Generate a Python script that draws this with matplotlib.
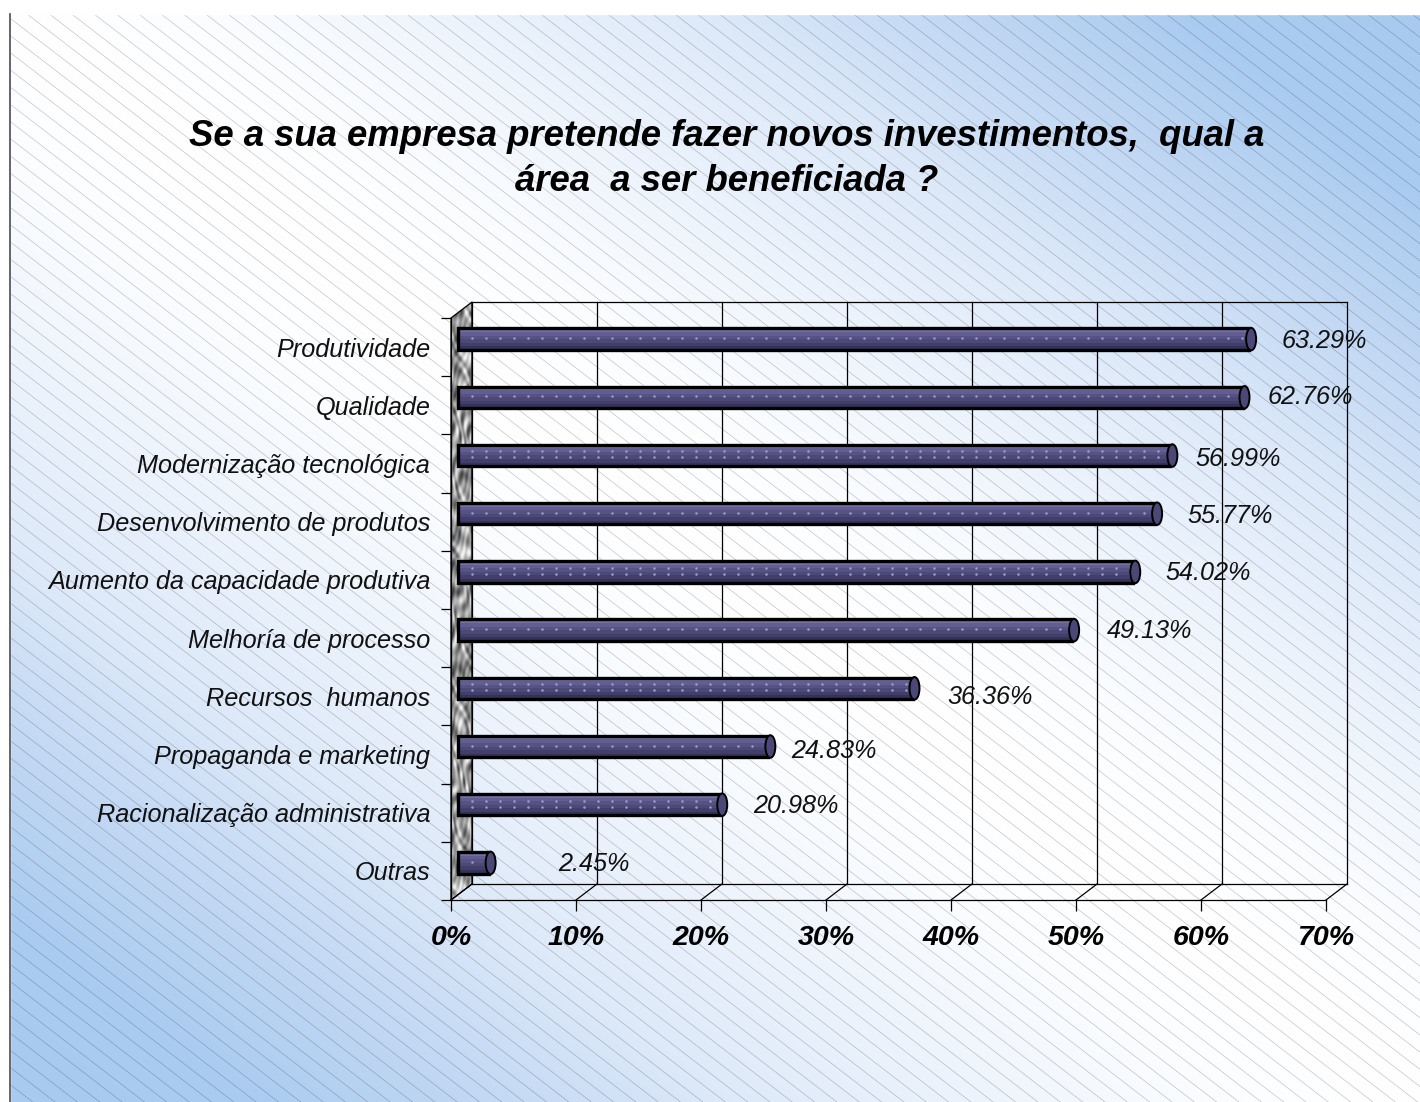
#!/usr/bin/env python

# Investment areas, 3D-looking horizontal bars

import matplotlib
matplotlib.use('Agg')
import matplotlib.pyplot as plt
from matplotlib.patches import Ellipse, Polygon
import numpy as np

plt.rcParams['font.family'] = ['Liberation Sans', 'DejaVu Sans']

title = 'Se a sua empresa pretende fazer novos investimentos,  qual a\nárea  a ser beneficiada ?'

categories = ['Produtividade', 'Qualidade', 'Modernização tecnológica',
              'Desenvolvimento de produtos', 'Aumento da capacidade produtiva',
              'Melhoría de processo', 'Recursos  humanos',
              'Propaganda e marketing', 'Racionalização administrativa', 'Outras']
values = [63.29, 62.76, 56.99, 55.77, 54.02, 49.13, 36.36, 24.83, 20.98, 2.45]
xticks = [0, 10, 20, 30, 40, 50, 60, 70]

# Layout, in pixels of the 1420x1102 picture

W, H = 1420, 1102
x0_px, x1_px = 451, 1326
y0_px, y1_px = 900, 318
depth_x_px, depth_y_px = 21, 16
label_gap_px = [24, 17, 17, 24, 24, 27, 27, 15, 25, 62]
label_shift_px = [2, 0, 3, 2, 1, 1, 9, 4, 1, 1]

fig = plt.figure(figsize=(W / 100, H / 100), dpi=100, facecolor='white')

# Background: gradient and thin diagonal lines

bg = fig.add_axes([0, 0, 1, 1], zorder=0)
bg.axis('off')

xx, yy = np.meshgrid(np.linspace(0, 1, 284), np.linspace(0, 1, 220))
u = np.abs(xx - yy)
stops = [0.0, 0.1, 0.2, 0.39, 0.5, 0.62, 0.69, 0.83, 1.0]
red = [255, 253, 247, 230, 221, 200, 191, 170, 168]
green = [255, 254, 250, 239, 233, 220, 214, 204, 202]
blue = [255, 255, 254, 251, 249, 245, 243, 240, 239]
grad = np.dstack([np.interp(u, stops, c) for c in (red, green, blue)]) / 255
bg.imshow(grad, extent=(10, W, H, 14), aspect='auto', interpolation='bilinear')
bg.set_xlim(0, W)
bg.set_ylim(H, 0)

for c in np.arange(-1400, 1110, 17.2):
    bg.plot([0, W], [c, c + 0.77 * W], color='#000000', alpha=0.25, lw=0.45)
bg.fill_between([0, 10], 0, H, color='white', zorder=3)
bg.fill_between([0, W], 0, 14, color='white', zorder=3)
bg.plot([10, 10], [14, H], color='#4a4a55', lw=1.2, zorder=4)

fig.text(727 / W, 1 - 159 / H, title, ha='center', va='center', fontsize=26.3,
         fontweight='bold', fontstyle='italic', linespacing=1.4)

# Chart axes: the front plane of the 3D box

ax = fig.add_axes([x0_px / W, 1 - y0_px / H, (x1_px - x0_px) / W, (y0_px - y1_px) / H],
                  zorder=1)
ax.patch.set_alpha(0)

px_x = 70 / (x1_px - x0_px)
px_y = len(categories) / (y0_px - y1_px)
dx = depth_x_px * px_x
dy = depth_y_px * px_y
ypos = np.arange(len(categories))[::-1] + 0.5

# Wall, floor and grid

wall = Polygon([(0, 0), (dx, dy), (dx, 10 + dy), (0, 10)], closed=True, fc='none',
               ec='black', lw=0.9, clip_on=False, zorder=2)
ax.add_patch(wall)
tx, ty = np.meshgrid(np.arange(21), np.arange(600))
warp = 2.5 * np.sin(ty * 0.037 + tx * 0.11) + 1.8 * np.sin(ty * 0.091 - tx * 0.23)
marble = (np.sin(tx * 0.31 + ty * 0.17 + warp) + np.sin(tx * 0.47 - ty * 0.11 + 1.7 * warp)
          + 0.6 * np.sin(tx * 0.83 + ty * 0.29 - warp))
img = ax.imshow(marble, cmap='gray', vmin=-4.5, vmax=2.8, aspect='auto', zorder=1,
                extent=(0, dx, 0, 10 + dy), interpolation='bilinear')
img.set_clip_box(fig.bbox)
img.set_clip_path(wall)
ax.set_xlim(0, 70)
ax.set_ylim(0, len(categories))

for t in xticks:
    ax.plot([t, t + dx], [0, dy], color='black', lw=0.9, clip_on=False, zorder=2)
    if t > 0:
        ax.plot([t + dx, t + dx], [dy, 10 + dy], color='black', lw=0.9, clip_on=False, zorder=2)
ax.plot([dx, 70 + dx], [dy, dy], color='black', lw=0.9, clip_on=False, zorder=2)
ax.plot([dx, 70 + dx], [10 + dy, 10 + dy], color='black', lw=0.9, clip_on=False, zorder=2)
ax.plot([dx, dx], [dy, 10 + dy], color='black', lw=0.9, clip_on=False, zorder=2)

# Bars: stacked colour bands, dots, black outline and an end cap

bar_x = dx / 3
bar_y = 0.5 * dy
bar_h = 21.5 * px_y
bands = ['#726ea2', '#625e92', '#565284', '#4c4878', '#423e6a', '#35325a']

for i, v in enumerate(values):
    yc = ypos[i] + bar_y
    bh = bar_h / len(bands)
    for j, col in enumerate(bands):
        ax.barh(yc + bar_h / 2 - (j + 0.5) * bh, v, height=bh, left=bar_x, color=col,
                lw=0, clip_on=False, zorder=3)
    ax.barh(yc, v, height=bar_h, left=bar_x, fc='none', ec='black', lw=2.4,
            clip_on=False, zorder=4)
    dots = np.arange(bar_x + 14 * px_x, bar_x + v - 2 * px_x, 14 * px_x)
    rows = [4, -2] if i in (2, 4, 6, 8) else [1]
    for r in rows:
        ax.scatter(dots, np.full(len(dots), yc + r * px_y), s=3.5, color='#9a9ac2',
                   lw=0, clip_on=False, zorder=4)
    ax.add_patch(Ellipse((bar_x + v + 2 * px_x, yc), 10 * px_x, bar_h + 1 * px_y, fc='#4b4878',
                         ec='black', lw=1.4, clip_on=False, zorder=5))
    ax.text(bar_x + v + (8 + label_gap_px[i]) * px_x, yc - label_shift_px[i] * px_y,
            f'{v:.2f}%', ha='left', va='center', fontsize=18.2, fontstyle='italic',
            color='#111111', zorder=6, clip_on=False)

# Axes, ticks and labels

for side in ('top', 'right'):
    ax.spines[side].set_visible(False)
for side in ('left', 'bottom'):
    ax.spines[side].set_linewidth(0.9)

ax.set_xticks(xticks)
ax.set_xticklabels([f'{t}%' for t in xticks], fontsize=20.5, fontweight='bold', fontstyle='italic')
ax.tick_params(axis='x', length=8, width=0.9, pad=10)

ax.set_yticks(np.arange(len(categories) + 1))
ax.set_yticklabels([])
ax.tick_params(axis='y', which='major', length=7.5, width=0.9)
ax.set_yticks(ypos, minor=True)
ax.set_yticklabels(categories, minor=True, fontsize=18.2, fontstyle='italic', color='#111111')
ax.tick_params(axis='y', which='minor', length=0, pad=15)

fig.savefig('out.png', dpi=100, facecolor='white')
